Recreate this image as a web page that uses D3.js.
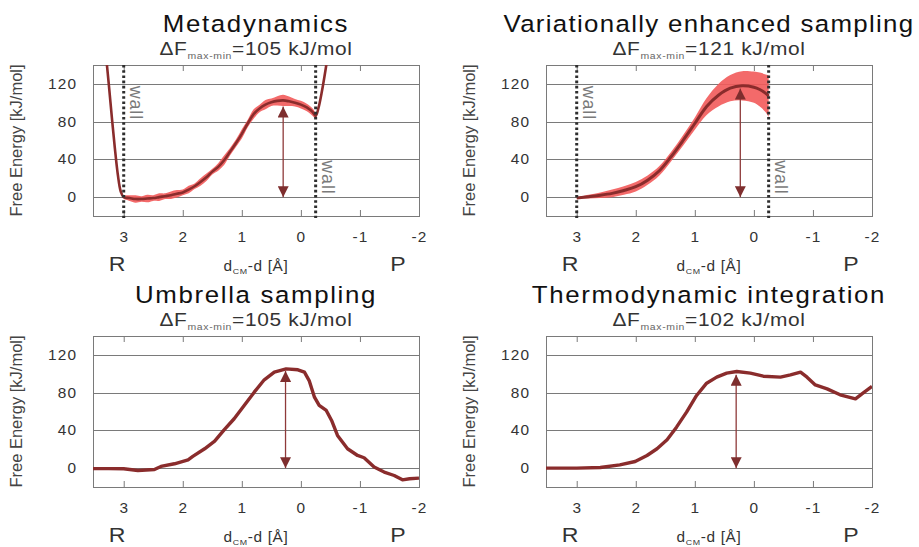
<!DOCTYPE html>
<html>
<head>
<meta charset="utf-8">
<script src="https://cdn.jsdelivr.net/npm/d3@7"></script>
<style>
  body { margin: 0; background: #fff; }
  text { font-family: "Liberation Sans", Arial, sans-serif; }
</style>
</head>
<body>
<div id="chart"></div>
<script>
// ---- data ----
var titles = ["Metadynamics", "Variationally enhanced sampling", "Umbrella sampling", "Thermodynamic integration"];
var deltaF = ["105", "121", "105", "102"];
var xTicks = [3, 2, 1, 0, -1, -2];
var yTicks = [0, 40, 80, 120];

// metadynamics (with error band, null = no band)
var metaX = [3.30, 3.25, 3.20, 3.15, 3.10, 3.05, 3.00,
  2.9, 2.8, 2.7, 2.6, 2.5, 2.4, 2.3, 2.2, 2.1, 2.0,
  1.9, 1.8, 1.7, 1.6, 1.5, 1.4, 1.3, 1.2, 1.1, 1.0,
  0.9, 0.8, 0.7, 0.6, 0.5, 0.4, 0.3, 0.2, 0.1, 0.0,
  -0.1, -0.2, -0.25, -0.3, -0.35, -0.4, -0.45];
var metaF = [150, 118, 84, 52, 24, 6, 0,
  -1, -2, -2, -1.5, -1, 0, 1, 2, 3.5, 5,
  8, 11.5, 16, 21, 27, 32, 39, 48, 57, 67,
  78, 88, 94, 98, 100.5, 102, 102.5, 101.5, 100, 98,
  95, 90, 86, 95, 110, 128, 148];
var metaErr = [null, null, null, null, null, null, 2,
  3, 4, 3, 4, 3, 4, 3, 4, 4, 3,
  4, 3, 4, 4, 3, 4, 5, 4, 4, 5,
  4, 5, 4, 5, 4, 5, 6, 5, 4, 4,
  4, 4, 3, null, null, null, null];

// variationally enhanced sampling
var vesX = [3.0, 2.8, 2.6, 2.4, 2.2, 2.0, 1.8, 1.6, 1.4, 1.2, 1.0, 0.8, 0.6, 0.4, 0.2, 0.0, -0.1, -0.2, -0.25];
var vesF = [-1, 0.5, 2, 4, 7, 11, 18, 28, 43, 60, 78, 96, 108, 115.5, 118, 116.5, 114, 110, 107];
var vesErr = [0.5, 2, 3, 4, 4.5, 5, 5, 5, 5, 5.5, 6.5, 9, 12, 14, 15.5, 16.5, 18, 20, 22];

// umbrella sampling
var usX = [3.52, 3.25, 3.0, 2.76, 2.48, 2.37, 2.14, 1.91, 1.83, 1.63, 1.46, 1.30, 1.13, 0.96, 0.79,
  0.62, 0.45, 0.25, 0.05, -0.06, -0.14, -0.23, -0.31, -0.43, -0.52, -0.62, -0.79, -0.96, -1.07,
  -1.24, -1.41, -1.58, -1.72, -1.84, -2.0];
var usF = [-0.5, -0.5, -0.7, -2.5, -1.5, 1.8, 4.6, 8.8, 12.4, 20.5, 28.6, 40.6, 52.3, 66.4, 80.5,
  93.6, 101.7, 105.2, 104.2, 101.7, 92.8, 75.2, 66.4, 61.1, 50.5, 34.6, 20.5, 13.4, 11,
  1.1, -4.2, -7.8, -12.4, -11.3, -10.6];

// thermodynamic integration
var tiX = [3.52, 3.0, 2.6, 2.27, 2.01, 1.81, 1.64, 1.47, 1.31, 1.14, 0.97, 0.80, 0.63, 0.46,
  0.29, 0.06, -0.16, -0.45, -0.62, -0.79, -0.90, -1.04, -1.24, -1.46, -1.72, -1.83, -2.0];
var tiF = [0, 0, 0.7, 3.5, 7, 13.4, 20.5, 30, 43.4, 59.3, 77, 90, 96.4, 100.6,
  102.4, 100.6, 97.4, 96.4, 98.8, 101.7, 96.4, 88.2, 84, 77.7, 73.4, 78.7, 86.5];

// max-min arrows and walls
var arrowX = [0.3, 0.23, 0.26, 0.3];
var arrowTop = [96, 115, 103, 99];
var wallX = [3.0, -0.25];

// ---- layout ----
var svgWidth = 919, svgHeight = 547;
var plotW = 326, plotH = 151;
var panels = [
  {left: 93, top: 65, x: metaX, f: metaF, err: metaErr, smooth: true, walls: true, lw: 2.6},
  {left: 546, top: 65, x: vesX, f: vesF, err: vesErr, smooth: true, walls: true, lw: 3},
  {left: 93, top: 336, x: usX, f: usF, err: null, smooth: false, walls: false, lw: 3.4},
  {left: 546, top: 336, x: tiX, f: tiF, err: null, smooth: false, walls: false, lw: 3.4}
];

var lineColor = "#8a2c2c";
var bandColor = "#f25a5a";
var arrowColor = "#8f3a3a";
var gridColor = "#7a7a7a";
var sx = 1.1; // horizontal stretch of the lettering

var svg = d3.select("#chart")
  .append("svg")
  .attr("width", svgWidth)
  .attr("height", svgHeight);

var defs = svg.append("defs");
defs.append("marker")
  .attr("id", "head")
  .attr("viewBox", "0 0 10 10")
  .attr("refX", 10).attr("refY", 5)
  .attr("markerUnits", "userSpaceOnUse")
  .attr("markerWidth", 11).attr("markerHeight", 11)
  .attr("orient", "auto-start-reverse")
  .append("path")
  .attr("d", "M0,0L10,5L0,10Z")
  .attr("fill", "#7e2e2e");

var x = d3.scaleLinear().domain([3.52, -2]).range([0, plotW]);
var y = d3.scaleLinear().domain([-20, 140]).range([plotH, 0]);

// horizontal text, slightly stretched like the source figure
function label(g, tx, ty, size, ls, anchor) {
  return g.append("text")
    .attr("transform", `translate(${tx}, ${ty}) scale(${sx},1)`)
    .attr("text-anchor", anchor || "middle")
    .style("font-size", size + "px")
    .style("letter-spacing", ls + "px");
}

panels.forEach(function(p, i) {
  var g = svg.append("g").attr("transform", `translate(${p.left}, ${p.top})`);

  defs.append("clipPath").attr("id", "clip" + i)
    .append("rect").attr("width", plotW).attr("height", plotH);

  // grid
  g.append("g")
    .call(d3.axisLeft(y).tickValues(yTicks).tickSize(-plotW).tickFormat(""))
    .call(s => s.select(".domain").remove())
    .call(s => s.selectAll("line").attr("stroke", gridColor).attr("shape-rendering", "crispEdges"));

  // y tick labels
  g.append("g")
    .call(d3.axisLeft(y).tickValues(yTicks).tickSize(0).tickPadding(14.5))
    .call(s => s.select(".domain").remove())
    .call(s => s.selectAll("text").attr("transform", `scale(${sx},1)`)
      .style("font-size", "14px").style("letter-spacing", "1px").attr("fill", "#333"));

  // bottom axis, ticks inward
  g.append("g")
    .attr("transform", `translate(0, ${plotH})`)
    .call(d3.axisBottom(x).tickValues(xTicks).tickFormat(d => String(d))
      .tickSizeInner(-6).tickSizeOuter(0).tickPadding(16))
    .call(s => s.select(".domain").remove())
    .call(s => s.selectAll("line").attr("stroke", gridColor))
    .call(s => s.selectAll("text").attr("transform", `scale(${sx},1)`)
      .style("font-size", "14px").style("letter-spacing", "1px").attr("fill", "#333"));

  // top ticks
  g.append("g")
    .call(d3.axisTop(x).tickValues(xTicks).tickSizeInner(-6).tickSizeOuter(0).tickFormat(""))
    .call(s => s.select(".domain").remove())
    .call(s => s.selectAll("line").attr("stroke", gridColor));

  // frame
  g.append("rect")
    .attr("width", plotW).attr("height", plotH)
    .attr("fill", "none").attr("stroke", gridColor)
    .attr("shape-rendering", "crispEdges");

  var pts = p.x.map(function(v, k) {
    return {x: v, f: p.f[k], e: p.err ? p.err[k] : null};
  });
  var curve = p.smooth ? d3.curveCatmullRom : d3.curveLinear;
  var plot = g.append("g").attr("clip-path", `url(#clip${i})`);

  if (p.err) {
    var area = d3.area()
      .defined(d => d.e != null)
      .x(d => x(d.x))
      .y0(d => y(d.f - d.e))
      .y1(d => y(d.f + d.e))
      .curve(curve);
    plot.append("path").datum(pts)
      .attr("d", area)
      .attr("fill", bandColor)
      .attr("opacity", 0.9);
  }

  var line = d3.line().x(d => x(d.x)).y(d => y(d.f)).curve(curve);
  plot.append("path").datum(pts)
    .attr("d", line)
    .attr("fill", "none")
    .attr("stroke", lineColor)
    .attr("stroke-width", p.lw)
    .attr("stroke-linejoin", "round");

  // walls
  if (p.walls) {
    g.selectAll(".wall").data(wallX).enter()
      .append("line")
      .attr("x1", d => x(d)).attr("x2", d => x(d))
      .attr("y1", 0).attr("y2", plotH + 2)
      .attr("stroke", "#2e2e2e")
      .attr("stroke-width", 3)
      .attr("stroke-dasharray", "2.6,2.6");
    var labelF = [118, 39];
    wallX.forEach(function(w, k) {
      g.append("text")
        .attr("transform", `translate(${x(w) + 6}, ${y(labelF[k])}) rotate(90)`)
        .style("font-size", "18px")
        .style("letter-spacing", "0.8px")
        .attr("fill", "#7a7a7a")
        .text("wall");
    });
  }

  // max-min arrow
  g.append("line")
    .attr("x1", x(arrowX[i])).attr("x2", x(arrowX[i]))
    .attr("y1", y(0)).attr("y2", y(arrowTop[i]))
    .attr("stroke", arrowColor)
    .attr("stroke-width", 1.3)
    .attr("marker-start", "url(#head)")
    .attr("marker-end", "url(#head)");

  // title
  label(g, plotW / 2, -33, 23.5, i === 1 ? 1.2 : 1.5).attr("fill", "#111").text(titles[i]);

  // delta F subtitle
  var sub = label(g, plotW / 2, -10.5, 19, 0.6).attr("fill", "#333");
  sub.append("tspan").text("\u0394F");
  sub.append("tspan").attr("dy", 4).style("font-size", "9.5px").attr("fill", "#666").text("max-min");
  sub.append("tspan").attr("dy", -4).text("=" + deltaF[i] + " kJ/mol");

  // axis titles
  g.append("text")
    .attr("transform", `translate(-71, ${plotH / 2}) rotate(-90)`)
    .attr("text-anchor", "middle")
    .style("font-size", "16.5px")
    .attr("fill", "#444")
    .text("Free Energy [kJ/mol]");

  var xl = label(g, plotW / 2, plotH + 55, 14, 0.6).attr("fill", "#333");
  xl.append("tspan").text("d");
  xl.append("tspan").attr("dy", 3).style("font-size", "8px").text("CM");
  xl.append("tspan").attr("dy", -3).text("-d [\u00c5]");

  label(g, 24, plotH + 55, 21, 0).attr("fill", "#333").text("R");
  label(g, plotW - 21, plotH + 55, 21, 0).attr("fill", "#333").text("P");
});
</script>
</body>
</html>
